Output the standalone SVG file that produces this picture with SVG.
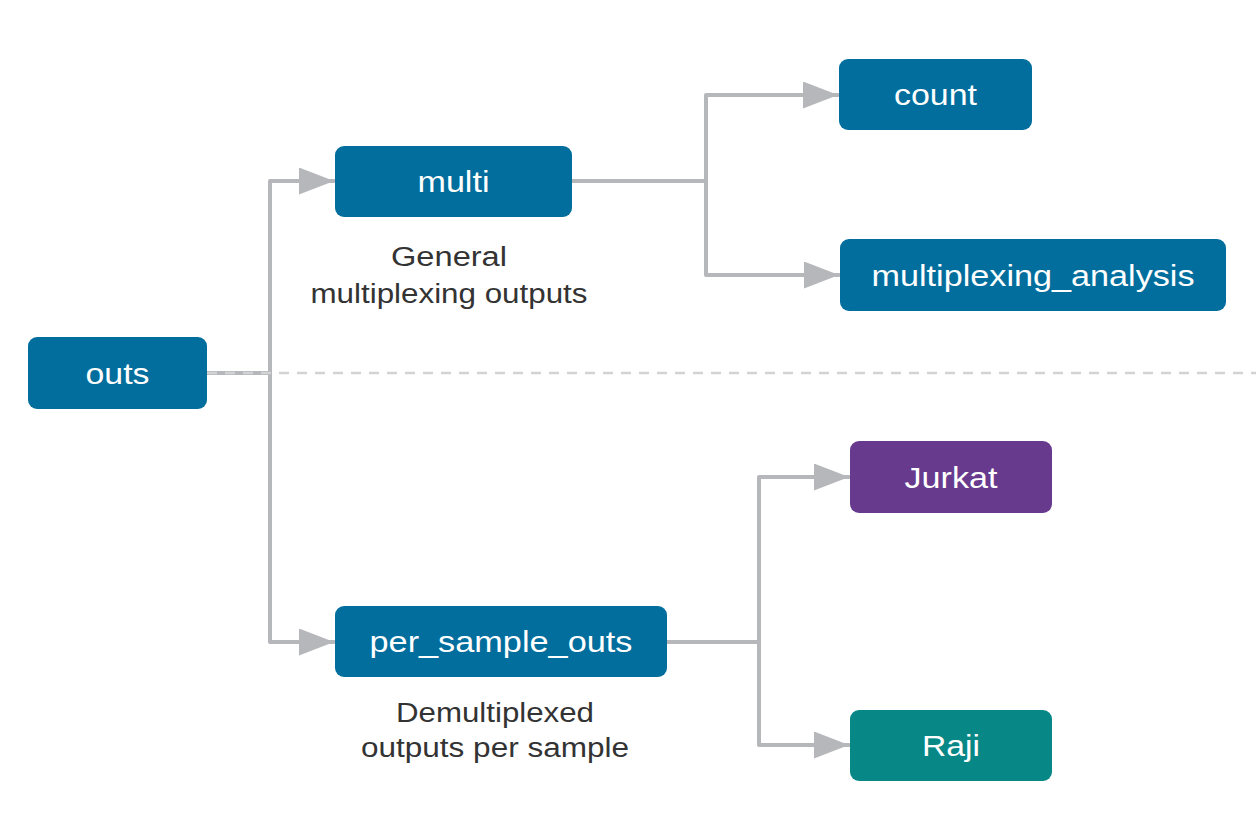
<svg xmlns="http://www.w3.org/2000/svg" width="1256" height="832" viewBox="0 0 1256 832">
<style>
.node text{font-family:"Liberation Sans",Arial,sans-serif;font-size:29px;fill:#ffffff;text-anchor:middle}
.blue{fill:#026e9d}
.purple{fill:#673a8e}
.teal{fill:#078886}
.conn{fill:none;stroke:#b5b7ba;stroke-width:4;stroke-linecap:round;stroke-linejoin:round}
.dash{fill:none;stroke:#d2d3d5;stroke-width:2.5;stroke-dasharray:10 8}
.note{font-family:"Liberation Sans",Arial,sans-serif;font-size:27px;fill:#333333;text-anchor:middle}
</style>
<defs>
<marker id="arr" markerUnits="userSpaceOnUse" markerWidth="38" markerHeight="30" refX="35" refY="13.5" orient="auto">
<path d="M0,0 L35,13.5 L0,27 Z" fill="#b5b7ba"/>
</marker>
</defs>
<rect width="1256" height="832" fill="#ffffff"/>
<g id="connectors">
<path class="conn" d="M207,373 H270"/>
<path class="conn" d="M270,373 V181 H334" marker-end="url(#arr)"/>
<path class="conn" d="M270,373 V642 H334" marker-end="url(#arr)"/>
<path class="conn" d="M572,181 H706"/>
<path class="conn" d="M706,181 V95 H838" marker-end="url(#arr)"/>
<path class="conn" d="M706,181 V275 H839" marker-end="url(#arr)"/>
<path class="conn" d="M667,642 H759"/>
<path class="conn" d="M759,642 V477 H849" marker-end="url(#arr)"/>
<path class="conn" d="M759,642 V745 H849" marker-end="url(#arr)"/>
<line class="dash" x1="207" y1="373" x2="1256" y2="373"/>
</g>
<g id="node-outs" class="node"><rect class="blue" x="28" y="337" width="179" height="72" rx="9"/><text x="117.5" y="383.5" textLength="64" lengthAdjust="spacingAndGlyphs">outs</text></g>
<g id="node-multi" class="node"><rect class="blue" x="335" y="146" width="237" height="71" rx="9"/><text x="453.5" y="192" textLength="72" lengthAdjust="spacingAndGlyphs">multi</text></g>
<g id="node-count" class="node"><rect class="blue" x="839" y="59" width="193" height="71" rx="9"/><text x="935.5" y="105" textLength="83" lengthAdjust="spacingAndGlyphs">count</text></g>
<g id="node-multiplexing_analysis" class="node"><rect class="blue" x="840" y="239" width="386" height="72" rx="9"/><text x="1033" y="285.5" textLength="323" lengthAdjust="spacingAndGlyphs">multiplexing_analysis</text></g>
<g id="node-per_sample_outs" class="node"><rect class="blue" x="335" y="606" width="332" height="71" rx="9"/><text x="501" y="652" textLength="263" lengthAdjust="spacingAndGlyphs">per_sample_outs</text></g>
<g id="node-jurkat" class="node"><rect class="purple" x="850" y="441" width="202" height="72" rx="9"/><text x="951" y="487.5" textLength="93" lengthAdjust="spacingAndGlyphs">Jurkat</text></g>
<g id="node-raji" class="node"><rect class="teal" x="850" y="710" width="202" height="71" rx="9"/><text x="951" y="756" textLength="58" lengthAdjust="spacingAndGlyphs">Raji</text></g>
<g id="notes">
<text class="note" x="449" y="265.5" textLength="116" lengthAdjust="spacingAndGlyphs">General</text>
<text class="note" x="449" y="303" textLength="277" lengthAdjust="spacingAndGlyphs">multiplexing outputs</text>
<text class="note" x="495" y="722" textLength="198" lengthAdjust="spacingAndGlyphs">Demultiplexed</text>
<text class="note" x="495" y="757" textLength="268" lengthAdjust="spacingAndGlyphs">outputs per sample</text>
</g>
</svg>
